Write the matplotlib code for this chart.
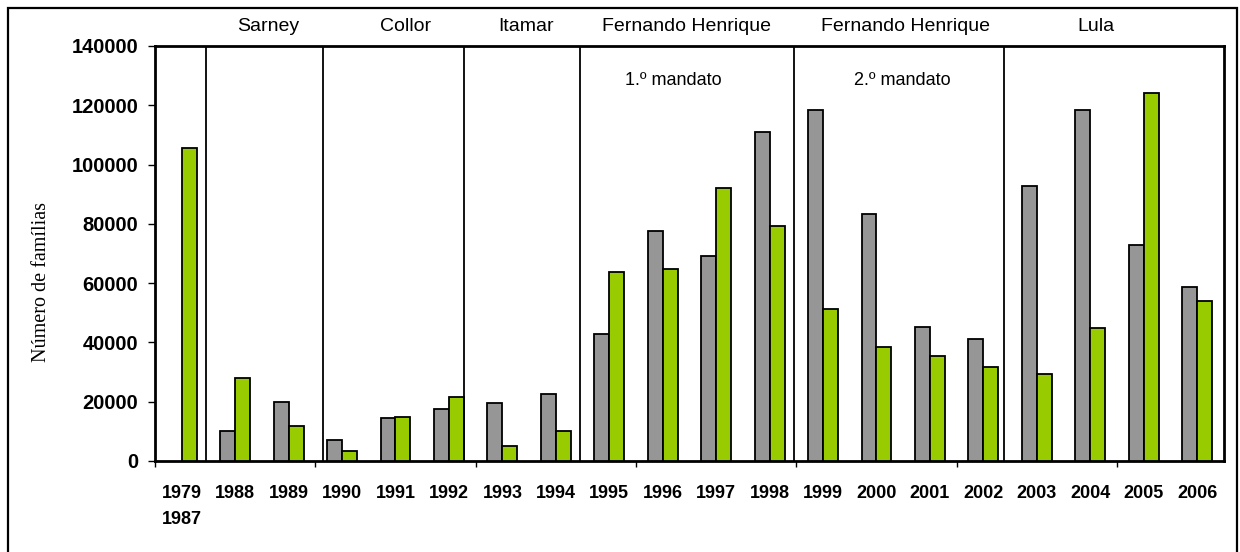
import numpy as np
import matplotlib
matplotlib.use("Agg")
import matplotlib.pyplot as plt
from matplotlib.patches import Rectangle

# data
anos = ['1979\n1987', '1988', '1989', '1990', '1991', '1992', '1993', '1994',
        '1995', '1996', '1997', '1998', '1999', '2000', '2001', '2002',
        '2003', '2004', '2005', '2006']
serie_cinza = [0, 10200, 20000, 7100, 14400, 17500, 19500, 22500,
               42800, 77700, 69300, 111100, 118500, 83300, 45200, 41000,
               92600, 118500, 73000, 58700]
serie_verde = [105600, 27900, 11900, 3400, 15000, 21700, 5200, 10100,
               63600, 64900, 92000, 79200, 51400, 38400, 35400, 31800,
               29200, 44700, 124000, 53800]

governos = ['Sarney', 'Collor', 'Itamar', 'Fernando Henrique', 'Fernando Henrique', 'Lula']
governo_x = [1.61, 4.19, 6.45, 9.44, 13.54, 17.11]
separadores = [0.45, 2.64, 5.29, 7.46, 11.46, 15.39]
mandatos = ['1.º mandato', '2.º mandato']
mandato_x = [9.19, 13.49]

sans = 'Liberation Sans'
serif = 'Liberation Serif'

fig = plt.figure(figsize=(12.4, 5.52), dpi=100)
ax = fig.add_axes([0.125, 0.1649, 0.862, 0.7518])

x = np.arange(len(anos))
w = 0.28
cinza = np.array(serie_cinza, dtype=float)
cinza[cinza == 0] = np.nan
ax.bar(x - w / 2, cinza, w, color='#969696', edgecolor='black', linewidth=1.3, zorder=3)
ax.bar(x + w / 2, serie_verde, w, color='#99CC00', edgecolor='black', linewidth=1.3, zorder=3)

ax.set_xlim(-0.5, len(anos) - 0.5)
ax.set_ylim(0, 140000)

ax.set_yticks(np.arange(0, 140001, 20000))
ax.set_yticklabels([str(v) for v in range(0, 140001, 20000)],
                   fontfamily=sans, fontweight='bold', fontsize=14.5)
ax.tick_params(axis='y', direction='out', length=5, width=1, pad=7)

ax.set_xticks(x)
ax.set_xticklabels(anos, fontfamily=sans, fontweight='bold', fontsize=13)
ax.tick_params(axis='x', which='major', length=0, pad=17)
ax.get_xticklabels()[0].set_linespacing(1.75)
ax.set_xticks(np.arange(-0.5, len(anos), 3), minor=True)
ax.tick_params(axis='x', which='minor', direction='out', length=4, width=1)

for s in ax.spines.values():
    s.set_linewidth(2.0)

for sx in separadores:
    ax.axvline(sx, color='black', linewidth=1.3, zorder=4)

for nome, gx in zip(governos, governo_x):
    ax.text(gx, 1.035, nome, transform=ax.get_xaxis_transform(),
            ha='center', va='baseline', fontfamily=sans, fontsize=14)

for nome, mx in zip(mandatos, mandato_x):
    ax.text(mx, 126700, nome, ha='center', va='baseline', fontfamily=sans, fontsize=13)

fig.text(42 / 1240, 1 - 282 / 552, 'Número de famílias', rotation=90,
         ha='center', va='center', fontfamily=serif, fontsize=14.5)

fig.patches.append(Rectangle((8 / 1240, -0.1), 1229 / 1240, 1.1 - 8 / 552,
                             transform=fig.transFigure, fill=False,
                             edgecolor='black', linewidth=1.6, clip_on=False))

fig.savefig('out.png', dpi=100)
